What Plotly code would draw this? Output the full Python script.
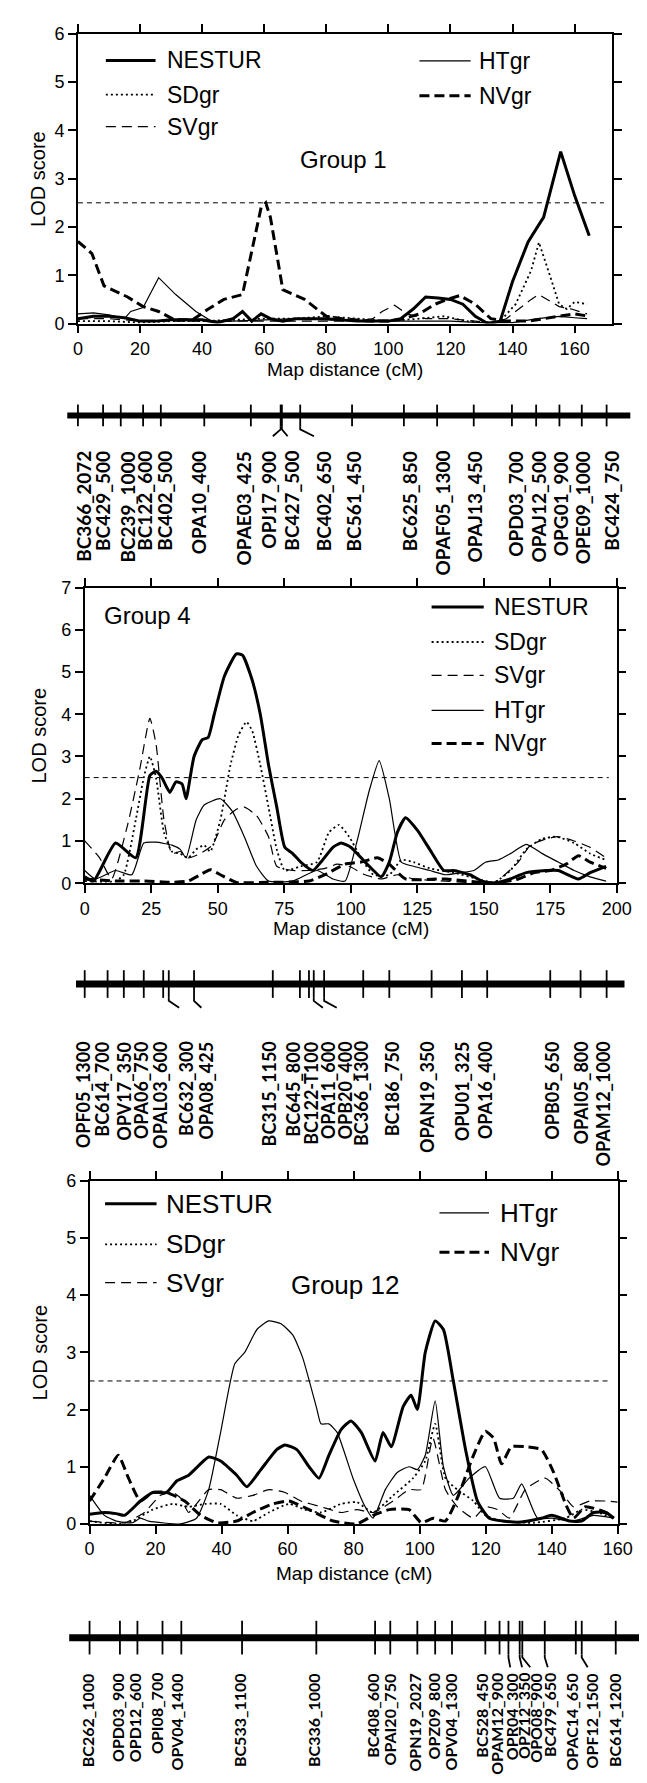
import plotly.graph_objects as go

W, H = 647, 1783

# ======================= DATA =======================
threshold = 2.5

# ---- Group 1 LOD curves (cM, LOD) ----
g1_nestur_x = [0, 5, 10, 15, 20, 25, 30, 35, 40, 45, 50, 53, 56, 59, 62, 66, 70, 80, 90, 100, 104, 108, 112, 116, 120, 124, 128, 132, 136, 140, 145, 149, 150, 155.5, 160, 164.7]
g1_nestur_y = [0.1, 0.15, 0.15, 0.12, 0.05, 0.05, 0.08, 0.08, 0.08, 0.02, 0.1, 0.25, 0.05, 0.2, 0.1, 0.05, 0.1, 0.1, 0.05, 0.05, 0.1, 0.3, 0.55, 0.53, 0.5, 0.4, 0.15, 0.0, 0.05, 0.87, 1.69, 2.1, 2.2, 3.56, 2.65, 1.82]
g1_sdgr_x = [0, 10, 20, 30, 40, 50, 60, 70, 80, 90, 100, 110, 118, 125, 132, 136, 141, 146, 148.5, 152, 155, 157.5, 160, 164]
g1_sdgr_y = [0.05, 0.05, 0.02, 0.05, 0.05, 0.08, 0.1, 0.1, 0.15, 0.1, 0.05, 0.1, 0.15, 0.05, 0.02, 0.05, 0.4, 1.1, 1.68, 1.0, 0.4, 0.3, 0.45, 0.4]
g1_svgr_x = [0, 10, 20, 30, 40, 50, 60, 70, 80, 90, 95, 98, 102, 106, 112, 120, 128, 134, 138, 142, 146, 148.5, 151, 155, 159, 164]
g1_svgr_y = [0.1, 0.1, 0.05, 0.05, 0.05, 0.05, 0.05, 0.05, 0.05, 0.05, 0.1, 0.25, 0.38, 0.2, 0.1, 0.1, 0.05, 0.02, 0.1, 0.3, 0.5, 0.6, 0.5, 0.35, 0.3, 0.2]
g1_htgr_x = [0, 5, 10, 15, 17, 21, 26, 31.5, 38, 43, 50, 60, 70, 80, 90, 100, 110, 120, 130, 140, 148, 155, 160, 164]
g1_htgr_y = [0.2, 0.22, 0.18, 0.1, 0.25, 0.33, 0.95, 0.6, 0.25, 0.05, 0.05, 0.08, 0.1, 0.08, 0.05, 0.05, 0.05, 0.05, 0.02, 0.02, 0.1, 0.15, 0.12, 0.1]
g1_nvgr_x = [0, 4.5, 8.4, 16, 21, 26, 31, 37, 42, 47, 53, 59, 60.5, 62, 66, 73, 80, 85, 94, 100, 105, 110, 115, 119, 123, 128, 133, 138, 145, 150, 155, 160, 164.7]
g1_nvgr_y = [1.7, 1.45, 0.78, 0.55, 0.35, 0.25, 0.08, 0.08, 0.3, 0.5, 0.6, 2.4, 2.5, 2.2, 0.7, 0.5, 0.15, 0.1, 0.05, 0.05, 0.1, 0.2, 0.4, 0.5, 0.58, 0.4, 0.1, 0.05, 0.05, 0.1, 0.15, 0.2, 0.15]

# ---- Group 4 LOD curves ----
g4_nestur_x = [0, 3.3, 11.6, 19.2, 24.5, 26.8, 29, 32, 34.3, 36.6, 38.1, 41.1, 44.2, 46.4, 48.7, 52.5, 57, 59.3, 63, 66, 69.1, 72.2, 75.2, 78.2, 81.2, 85.8, 88.8, 93.3, 96.4, 100, 105.4, 111.5, 114.5, 117.5, 120.6, 125.1, 129.7, 135, 138.7, 144.8, 149.3, 153.9, 160, 166, 173.5, 178, 185.6, 190, 196]
g4_nestur_y = [0.15, 0.05, 0.95, 0.6, 2.55, 2.65, 2.5, 2.15, 2.4, 2.35, 2.0, 3.0, 3.4, 3.45, 4.0, 4.9, 5.43, 5.4, 4.8, 4.0, 2.8, 1.8, 0.85, 0.7, 0.5, 0.3, 0.5, 0.85, 0.95, 0.85, 0.5, 0.15, 0.5, 1.2, 1.55, 1.25, 0.8, 0.3, 0.3, 0.2, 0.05, 0.0, 0.1, 0.25, 0.3, 0.3, 0.1, 0.25, 0.4]
g4_sdgr_x = [0, 11.6, 14.7, 19.2, 22.2, 24.5, 26.8, 29.8, 32.8, 35.9, 38.9, 41.9, 44.9, 47.2, 51, 54.8, 57.8, 60.8, 63, 66, 69.1, 72.2, 75.2, 81.2, 87.3, 91.8, 95.6, 99.4, 103.9, 108.5, 114.5, 119, 123.6, 129.7, 138.7, 147.8, 153.9, 160, 166, 172, 177.3, 184, 190, 196]
g4_sdgr_y = [0.05, 0.05, 0.2, 1.5, 2.5, 3.0, 2.5, 1.2, 0.75, 0.7, 0.6, 0.8, 0.9, 0.75, 1.5, 2.8, 3.5, 3.82, 3.6, 2.8, 1.8, 0.8, 0.3, 0.4, 0.5, 1.2, 1.38, 1.1, 0.6, 0.2, 0.2, 0.55, 0.5, 0.35, 0.25, 0.1, 0.02, 0.3, 0.8, 1.05, 1.1, 0.95, 0.7, 0.55]
g4_svgr_x = [0, 5.6, 10.1, 16.2, 20.7, 24.5, 26.8, 29.8, 32.8, 35.9, 38.9, 43.4, 48, 52.5, 57, 60, 64.6, 69.1, 72.2, 78.2, 84.3, 90.3, 94.9, 99.4, 105.4, 111.5, 117.5, 123.6, 135.7, 153.9, 163, 167.5, 173.5, 178, 184, 190, 196]
g4_svgr_y = [1.0, 0.6, 0.1, 1.4, 2.7, 3.9, 3.3, 1.5, 0.7, 0.75, 0.6, 0.7, 0.9, 1.5, 1.75, 1.8, 1.6, 1.1, 0.4, 0.3, 0.3, 0.35, 0.45, 0.4, 0.2, 0.1, 0.2, 0.1, 0.05, 0.02, 0.5, 0.9, 1.05, 1.1, 1.0, 0.85, 0.6]
g4_htgr_x = [0, 4, 11.6, 17.7, 22.2, 26.8, 32.8, 35.9, 38.1, 41.9, 44.9, 51, 55.5, 60, 64.6, 69.1, 78.2, 87.3, 93.3, 97.9, 102.4, 107, 110.7, 114.5, 119, 123.6, 129.7, 135.7, 141.8, 146.3, 150.8, 155.4, 160, 166, 172, 178, 184, 190, 196]
g4_htgr_y = [0.3, 0.1, 0.3, 0.2, 0.95, 0.97, 0.9, 0.8, 0.6, 1.5, 1.85, 2.0, 1.7, 1.1, 0.4, 0.05, 0.05, 0.3, 0.1, 0.05, 1.0, 2.2, 2.9, 2.0, 0.5, 0.4, 0.3, 0.2, 0.25, 0.3, 0.5, 0.55, 0.7, 0.92, 0.7, 0.5, 0.3, 0.15, 0.05]
g4_nvgr_x = [0, 11.6, 22.2, 32.8, 38.9, 43.4, 47.2, 51, 57, 69.1, 84.3, 90.3, 97.9, 103.9, 110, 114.5, 120.6, 135.7, 153.9, 163, 169, 175, 181, 185.6, 190, 196]
g4_nvgr_y = [0.1, 0.05, 0.05, 0.02, 0.05, 0.2, 0.32, 0.2, 0.02, 0.02, 0.05, 0.2, 0.45, 0.5, 0.6, 0.45, 0.1, 0.1, 0.0, 0.1, 0.25, 0.3, 0.45, 0.65, 0.5, 0.35]

# ---- Group 12 LOD curves ----
g12_nestur_x = [0, 4.5, 8.1, 10.6, 15.4, 19.1, 23.3, 26.4, 30, 36.1, 39.7, 44.6, 47.6, 51.9, 56.7, 59.2, 62.8, 66.5, 69.5, 72.5, 76.2, 79.2, 82.3, 86.5, 88.9, 91.4, 95, 97.4, 99.3, 101.7, 104.7, 107.2, 110.2, 113.9, 117.5, 121.1, 129.6, 136.9, 140, 145.4, 149.1, 152.7, 156.4, 158.8]
g12_nestur_y = [0.17, 0.2, 0.18, 0.15, 0.4, 0.55, 0.55, 0.75, 0.85, 1.17, 1.1, 0.85, 0.65, 0.95, 1.3, 1.38, 1.3, 1.0, 0.8, 1.2, 1.65, 1.8, 1.6, 1.1, 1.6, 1.35, 2.05, 2.25, 2.0, 3.0, 3.55, 3.4, 2.5, 1.3, 0.4, 0.1, 0.03, 0.1, 0.15, 0.05, 0.05, 0.2, 0.2, 0.1]
g12_htgr_x = [0, 4.5, 8.1, 13, 15.4, 17.9, 27.6, 32.4, 36.1, 39.7, 44, 47, 50.7, 54.3, 58, 61.6, 64.6, 68.9, 70.1, 72.5, 75, 79.8, 83.5, 85.9, 89.6, 93.2, 96.8, 99.3, 101.7, 104.7, 107.2, 110.2, 115, 119.9, 124.2, 128.4, 130.9, 135.7, 140, 146.6, 152.7, 158.8]
g12_htgr_y = [0.5, 0.15, 0.05, 0.02, 0.1, 0.05, 0.0, 0.1, 0.6, 1.6, 2.8, 3.0, 3.4, 3.55, 3.5, 3.3, 2.9, 2.0, 1.75, 1.75, 1.6, 0.8, 0.3, 0.1, 0.6, 0.9, 1.0, 0.95, 1.2, 2.15, 1.0, 0.5, 0.8, 1.0, 0.45, 0.45, 0.7, 0.1, 0.1, 0.05, 0.15, 0.1]
g12_sdgr_x = [0, 8.1, 13, 19.1, 25.2, 30, 34.9, 39.7, 44.6, 49.5, 54.3, 60.4, 65.2, 70.1, 76.2, 81, 85.9, 92, 98, 101.7, 104.7, 107.8, 111.4, 116.3, 119.9, 124.8, 134.5, 144.2, 149.1, 154, 158.8]
g12_sdgr_y = [0.05, 0.0, 0.05, 0.25, 0.35, 0.3, 0.35, 0.35, 0.15, 0.05, 0.2, 0.35, 0.25, 0.2, 0.35, 0.38, 0.2, 0.5, 0.8, 1.1, 1.75, 0.8, 0.6, 0.4, 0.15, 0.05, 0.02, 0.1, 0.25, 0.2, 0.1]
g12_svgr_x = [0, 10.6, 16.6, 21.5, 25.2, 27.6, 30, 32.4, 36.1, 39.7, 44.6, 49.5, 54.3, 59.2, 64, 70.1, 76.2, 81, 85.9, 92, 96.8, 100.5, 104, 107.8, 111.4, 116.3, 119.9, 123.6, 127.2, 132, 138, 143, 146.6, 151.5, 156.4, 160]
g12_svgr_y = [0.05, 0.02, 0.2, 0.5, 0.55, 0.45, 0.2, 0.35, 0.6, 0.6, 0.45, 0.5, 0.6, 0.55, 0.4, 0.3, 0.2, 0.25, 0.2, 0.4, 0.6, 0.6, 1.5, 0.6, 0.3, 0.1, 0.3, 0.25, 0.1, 0.6, 0.8, 0.55, 0.3, 0.4, 0.4, 0.38]
g12_nvgr_x = [0, 4.5, 8.7, 11.8, 15.4, 19.1, 23.3, 28.8, 33.7, 38.5, 44.6, 49.5, 55.5, 60.4, 66.5, 73.8, 81, 85.9, 90.8, 96.8, 100.5, 104.1, 107.8, 111.4, 116.3, 119.9, 122.4, 124.8, 127.8, 132, 136.9, 140.6, 144.2, 146.6, 150.2, 156.4, 158.8]
g12_nvgr_y = [0.4, 0.8, 1.2, 0.8, 0.4, 0.55, 0.55, 0.4, 0.15, 0.02, 0.05, 0.2, 0.35, 0.4, 0.25, 0.05, 0.0, 0.15, 0.25, 0.25, 0.02, 0.1, 0.05, 0.45, 1.2, 1.62, 1.5, 1.05, 1.35, 1.35, 1.3, 0.9, 0.35, 0.1, 0.3, 0.2, 0.1]

# ---- Linkage-map markers (names, tick position in cM, label position in cM) ----
g1_markers = ["BC366_2072", "BC429_500", "BC239_1000", "BC122_600", "BC402_500", "OPA10_400", "OPAE03_425", "OPJ17_900", "BC427_500", "BC402_650", "BC561_450", "BC625_850", "OPAF05_1300", "OPAJ13_450", "OPD03_700", "OPAJ12_500", "OPG01_900", "OPE09_1000", "BC424_750"]
g1_marker_cm = [0, 8.1, 13.8, 21.0, 26.7, 40.7, 55.7, 65.3, 65.7, 71.6, 88.3, 105.0, 115.7, 127.5, 139.8, 147.6, 155.1, 162.3, 170.3]
g1_label_cm = [1.7, 7.7, 16.1, 21.2, 27.6, 38.9, 53.3, 61.1, 68.8, 79.0, 88.7, 106.7, 117.6, 127.9, 140.7, 148.5, 155.5, 162.6, 171.6]
g1_hooks = ["OPJ17_900", "BC427_500", "BC402_650"]

g4_markers = ["OPF05_1300", "BC614_700", "OPV17_350", "OPA06_750", "OPAL03_600", "BC632_300", "OPA08_425", "BC315_1150", "BC645_800", "BC122-T100", "OPA11_600", "OPB20_400", "BC366_1300", "BC186_750", "OPAN19_350", "OPU01_325", "OPA16_400", "OPB05_650", "OPAI05_800", "OPAM12_1000"]
g4_marker_cm = [0, 8.6, 14.7, 22.2, 29.5, 31.6, 41.1, 70.7, 80.9, 84.3, 86.1, 90.0, 104.7, 114.5, 130.4, 141.8, 151.3, 175.0, 186.4, 196.2]
g4_label_cm = [-0.5, 6.4, 14.7, 21.5, 28.3, 38.1, 45.7, 69.1, 78.2, 85.0, 91.8, 97.9, 103.9, 115.3, 128.9, 141.8, 150.8, 175.8, 186.4, 194.7]
g4_hooks = ["BC632_300", "OPA08_425", "OPA11_600", "OPB20_400"]

g12_markers = ["BC262_1000", "OPD03_900", "OPD12_600", "OPI08_700", "OPV04_1400", "BC533_1100", "BC336_1000", "BC408_600", "OPAI20_750", "OPN19_2027", "OPZ09_800", "OPV04_1300", "BC528_450", "OPAM12_900", "OPR04_300", "OPZ12_350", "OPO08_900", "BC479_650", "OPAC14_650", "OPF12_1500", "BC614_1200"]
g12_marker_cm = [0, 9.2, 14.5, 22.1, 27.8, 46.2, 68.7, 86.5, 91.1, 99.3, 104.7, 109.8, 119.9, 124.2, 126.9, 130.3, 131.1, 137.9, 147.3, 149.1, 159.4]
g12_label_cm = [-0.8, 8.4, 13.6, 20.5, 26.4, 45.2, 67.9, 85.7, 90.8, 98.4, 104.1, 109.4, 118.7, 123.3, 127.8, 131.5, 135.1, 139.4, 146.1, 152.1, 158.8]
g12_hooks = ["OPR04_300", "OPZ12_350", "OPO08_900", "BC479_650", "OPF12_1500"]

series_names = ["NVgr", "SVgr", "SDgr", "HTgr", "NESTUR"]

# ======================= STYLE / GEOMETRY =======================
AX_FONT = "Liberation Sans, Arial, Helvetica, sans-serif"
MK_FONT = "Lato, Open Sans, sans-serif"
styles = {
    "NESTUR": dict(width=3.0, dash="solid"),
    "SDgr": dict(width=1.8, dash="2px,3px"),
    "SVgr": dict(width=1.2, dash="10px,6px"),
    "HTgr": dict(width=1.2, dash="solid"),
    "NVgr": dict(width=3.0, dash="10px,5px"),
}

panels = [
    dict(title="Group 1", x0=67, x1=618, yt=16, yb=309, xr=[0, 172], yr=[0, 6], dtick=20, spline=False,
         curves={"NESTUR": (g1_nestur_x, g1_nestur_y), "SDgr": (g1_sdgr_x, g1_sdgr_y), "SVgr": (g1_svgr_x, g1_svgr_y),
                 "HTgr": (g1_htgr_x, g1_htgr_y), "NVgr": (g1_nvgr_x, g1_nvgr_y)},
         legend=[("NESTUR", 9, 25, 5.45, 28), ("SDgr", 9, 25, 4.74, 28), ("SVgr", 9, 25, 4.08, 28),
                 ("HTgr", 110, 126.5, 5.44, 128.5), ("NVgr", 110, 126.5, 4.72, 128.5)],
         leg_size=23, group_pos=(85.5, 3.4, "center"), group_size=24,
         xtitle_y=355, ytitle_x=25,
         markers=g1_markers, mcm=g1_marker_cm, lcm=g1_label_cm, hooks=g1_hooks,
         bar_y=402, bar_px=(56, 637), bar_w=6, half=11, drop=10, label_top=436, msize=19),
    dict(title="Group 4", x0=74, x1=623, yt=576, yb=875, xr=[0, 200], yr=[0, 7], dtick=25, spline=True,
         curves={"NESTUR": (g4_nestur_x, g4_nestur_y), "SDgr": (g4_sdgr_x, g4_sdgr_y), "SVgr": (g4_svgr_x, g4_svgr_y),
                 "HTgr": (g4_htgr_x, g4_htgr_y), "NVgr": (g4_nvgr_x, g4_nvgr_y)},
         legend=[("NESTUR", 130.4, 150, 6.54, 153), ("SDgr", 130.4, 150, 5.71, 153), ("SVgr", 130.4, 150, 4.92, 153),
                 ("HTgr", 130.4, 150, 4.09, 153), ("NVgr", 130.4, 150, 3.31, 153)],
         leg_size=23, group_pos=(6.4, 6.34, "left"), group_size=24,
         xtitle_y=921, ytitle_x=27,
         markers=g4_markers, mcm=g4_marker_cm, lcm=g4_label_cm, hooks=g4_hooks,
         bar_y=977, bar_px=(65, 631), bar_w=7, half=14, drop=10, label_top=1033, msize=18),
    dict(title="Group 12", x0=79, x1=624, yt=1176, yb=1523, xr=[0, 160], yr=[0, 6], dtick=20, spline=True,
         curves={"NESTUR": (g12_nestur_x, g12_nestur_y), "SDgr": (g12_sdgr_x, g12_sdgr_y), "SVgr": (g12_svgr_x, g12_svgr_y),
                 "HTgr": (g12_htgr_x, g12_htgr_y), "NVgr": (g12_nvgr_x, g12_nvgr_y)},
         legend=[("NESTUR", 4.7, 20.3, 5.6, 22.7), ("SDgr", 4.7, 20.3, 4.89, 22.7), ("SVgr", 4.7, 20.3, 4.22, 22.7),
                 ("HTgr", 106, 121, 5.44, 123.6), ("NVgr", 106, 121, 4.75, 123.6)],
         leg_size=26, group_pos=(77.4, 4.17, "center"), group_size=26,
         xtitle_y=1573, ytitle_x=28,
         markers=g12_markers, mcm=g12_marker_cm, lcm=g12_label_cm, hooks=g12_hooks,
         bar_y=1638, bar_px=(58, 647), bar_w=7, half=17, drop=13, label_top=1672, msize=16),
]

fig = go.Figure()
layout = dict(width=W, height=H, margin=dict(l=0, r=0, t=0, b=0), paper_bgcolor="white",
              plot_bgcolor="rgba(0,0,0,0)", showlegend=False)
annotations = []
shapes = []

# strip y axis: pixel units from top
layout["yaxis4"] = dict(domain=[0, 1], range=[H, 0], visible=False, anchor="x4", fixedrange=True)

for i, p in enumerate(panels):
    n = i + 1
    xid = "x" if n == 1 else f"x{n}"
    yid = "y" if n == 1 else f"y{n}"
    xkey = "xaxis" if n == 1 else f"xaxis{n}"
    ykey = "yaxis" if n == 1 else f"yaxis{n}"
    common = dict(ticks="outside", ticklen=8, tickwidth=1.5, tickcolor="black", showline=True, linewidth=1.5,
                  linecolor="black", mirror="ticks", showgrid=False, zeroline=False,
                  tickfont=dict(family=AX_FONT, size=18, color="black"), fixedrange=True)
    layout[xkey] = dict(domain=[p["x0"] / W, p["x1"] / W], range=p["xr"], anchor=yid,
                        tickmode="linear", tick0=0, dtick=p["dtick"], **common)
    layout[ykey] = dict(domain=[1 - p["yb"] / H, 1 - p["yt"] / H], range=p["yr"], anchor=xid,
                        tickmode="linear", tick0=0, dtick=1, **common)

    # LOD curves
    for s in series_names:
        xs, ys = p["curves"][s]
        st = styles[s]
        fig.add_trace(go.Scatter(x=xs, y=ys, mode="lines", xaxis=xid, yaxis=yid, name=s,
                                 line=dict(color="black", width=st["width"], dash=st["dash"],
                                           shape="spline" if p["spline"] else "linear", smoothing=0.5)))

    # threshold line
    shapes.append(dict(type="line", xref=f"{xid} domain", yref=yid, x0=0.0, x1=0.985, y0=threshold, y1=threshold,
                       line=dict(color="black", width=1, dash="5px,4px")))

    # legend (manual)
    for (s, lx0, lx1, ly, tx) in p["legend"]:
        st = styles[s]
        shapes.append(dict(type="line", xref=xid, yref=yid, x0=lx0, x1=lx1, y0=ly, y1=ly,
                           line=dict(color="black", width=st["width"], dash=st["dash"])))
        annotations.append(dict(xref=xid, yref=yid, x=tx, y=ly, text=s, showarrow=False, xanchor="left",
                                yanchor="middle", font=dict(family=AX_FONT, size=p["leg_size"], color="black")))
    gx, gy, ga = p["group_pos"]
    annotations.append(dict(xref=xid, yref=yid, x=gx, y=gy, text=p["title"], showarrow=False, xanchor=ga,
                            yanchor="middle", font=dict(family=AX_FONT, size=p["group_size"], color="black")))

    # axis titles
    annotations.append(dict(xref="paper", yref="paper", x=p["ytitle_x"] / W, y=1 - (p["yt"] + p["yb"]) / 2 / H,
                            text="LOD score", textangle=-90, showarrow=False, xanchor="center", yanchor="middle",
                            font=dict(family=AX_FONT, size=20, color="black")))
    annotations.append(dict(xref="paper", yref="paper", x=(p["x0"] + p["x1"]) / 2 / W, y=1 - p["xtitle_y"] / H,
                            text="Map distance (cM)", showarrow=False, xanchor="center", yanchor="middle",
                            font=dict(family=AX_FONT, size=19, color="black")))

    # ---- linkage map strip ----
    sx = f"x{n + 3}"
    k = (p["x1"] - p["x0"]) / (p["xr"][1] - p["xr"][0])
    rng = [p["xr"][0] - p["x0"] / k, p["xr"][0] + (W - p["x0"]) / k]
    layout[f"xaxis{n + 3}"] = dict(domain=[0, 1], range=rng, visible=False, anchor="y4", fixedrange=True)
    b0 = rng[0] + p["bar_px"][0] / k
    b1 = rng[0] + p["bar_px"][1] / k
    by = p["bar_y"]
    fig.add_trace(go.Scatter(x=[b0, b1], y=[by, by], mode="lines", xaxis=sx, yaxis="y4",
                             line=dict(color="black", width=p["bar_w"]), hoverinfo="skip"))
    tx, ty = [], []
    for name, t, l in zip(p["markers"], p["mcm"], p["lcm"]):
        tx += [t, t, None]
        ty += [by - p["half"], by + p["half"], None]
        if name in p["hooks"]:
            tx += [t, t, t + (l - t) * 0.6, None]
            ty += [by + p["half"], by + p["half"] + 3, by + p["half"] + p["drop"], None]
    fig.add_trace(go.Scatter(x=tx, y=ty, mode="lines", xaxis=sx, yaxis="y4",
                             line=dict(color="black", width=1.8), hoverinfo="skip"))
    for name, l in zip(p["markers"], p["lcm"]):
        annotations.append(dict(xref=sx, yref="y4", x=l, y=p["label_top"], text=name, textangle=-90,
                                showarrow=False, xanchor="center", yanchor="top",
                                font=dict(family=MK_FONT, size=p["msize"], color="black", weight=700)))

layout["annotations"] = annotations
layout["shapes"] = shapes
fig.update_layout(**layout)
fig.write_html("out.html")
